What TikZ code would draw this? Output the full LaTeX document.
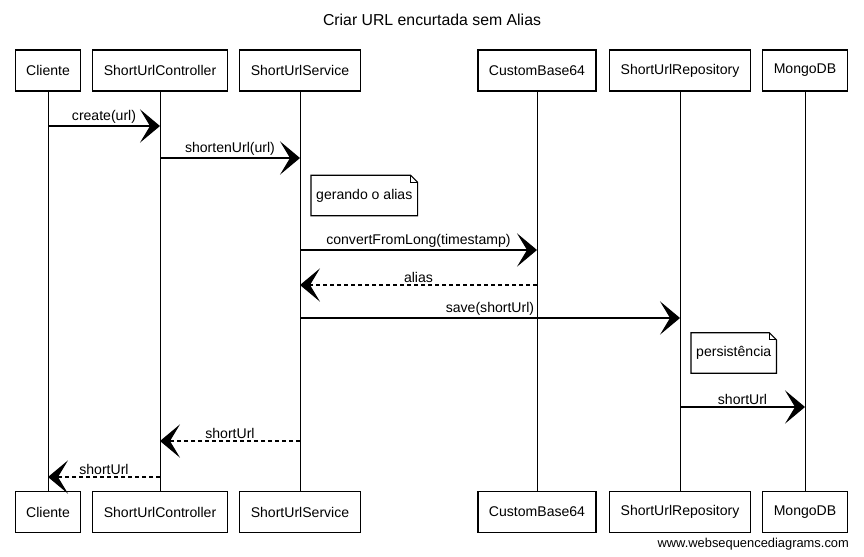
\documentclass[tikz,border=0pt]{standalone}
\usepackage{fontspec}
\setmainfont{Liberation Sans}
\usetikzlibrary{arrows.meta}
\tikzset{ %one unit = one pixel of the reference
  {actor/.style} ={draw, line width=1pt, fill=white, rectangle,
                   inner xsep=3.3mm, minimum height=12.3mm,
                   font=\fontsize{12}{14}\selectfont},
  {lifeline/.style} ={draw, line width=0.8pt},
  {message/.style} ={draw, line width=1pt,
                   -{Stealth[length=6mm,width=10mm,inset=3mm]}},
  {reply/.style} ={message, dash pattern=on 1.2mm off 0.9mm},
  {msglabel/.style} ={above, inner sep=1.5pt, font=\fontsize{12}{14}\selectfont},
  {notebox/.style} ={rectangle, anchor=west, inner xsep=1.5mm,
                   minimum height=12mm, font=\fontsize{12}{14}\selectfont},
  {noteline/.style} ={draw, line width=0.9pt},
}
\begin{document}
\begin{tikzpicture}[x=0.3mm, y=-0.3mm]
\useasboundingbox (0,0) rectangle (864,556);
\node[font=\fontsize{13.5}{16}\selectfont] (title) at (432,20) {Criar URL encurtada sem Alias};
% actors, top and bottom
\node[actor] (cliT) at (48,70.5) {Cliente};
\node[actor] (ctrlT) at (160,70.5) {ShortUrlController};
\node[actor] (servT) at (300,70.5) {ShortUrlService};
\node[actor] (b64T) at (537,70.5) {CustomBase64};
\node[actor] (repoT) at (680,70.5) {ShortUrlRepository};
\node[actor] (mongoT) at (805,70.5) {MongoDB};
\node[actor] (cliB) at (48,512) {Cliente};
\node[actor] (ctrlB) at (160,512) {ShortUrlController};
\node[actor] (servB) at (300,512) {ShortUrlService};
\node[actor] (b64B) at (537,512) {CustomBase64};
\node[actor] (repoB) at (680,512) {ShortUrlRepository};
\node[actor] (mongoB) at (805,512) {MongoDB};
\foreach \a in {cli,ctrl,serv,b64,repo,mongo}
  \draw[lifeline] (\a T.south) -- (\a B.north);
% messages
\draw[message] (cliT |- 0,126) -- node[msglabel] {create(url)} (ctrlT |- 0,126);
\draw[message] (ctrlT |- 0,158) -- node[msglabel] {shortenUrl(url)} (servT |- 0,158);
\node[notebox] (gen) at (311,195.5) {gerando o alias};
\draw[noteline] (gen.south west) -- (gen.north west) -- ([xshift=-2.1mm]gen.north east)
  -- ([yshift=-2.1mm]gen.north east) -- (gen.south east) -- cycle;
\draw[line width=0.7pt] ([xshift=-2.1mm]gen.north east) |- ([yshift=-2.1mm]gen.north east);
\draw[message] (servT |- 0,250) -- node[msglabel] {convertFromLong(timestamp)} (b64T |- 0,250);
\draw[reply] (b64T |- 0,285) -- node[msglabel] {alias} (servT |- 0,285);
\draw[message] (servT |- 0,318) -- node[msglabel] {save(shortUrl)} (repoT |- 0,318);
\node[notebox] (pers) at (691,353) {persistência};
\draw[noteline] (pers.south west) -- (pers.north west) -- ([xshift=-2.1mm]pers.north east)
  -- ([yshift=-2.1mm]pers.north east) -- (pers.south east) -- cycle;
\draw[line width=0.7pt] ([xshift=-2.1mm]pers.north east) |- ([yshift=-2.1mm]pers.north east);
\draw[message] (repoT |- 0,407) -- node[msglabel] {shortUrl} (mongoT |- 0,407);
\draw[reply] (servT |- 0,441) -- node[msglabel] {shortUrl} (ctrlT |- 0,441);
\draw[reply] (ctrlT |- 0,477) -- node[msglabel] {shortUrl} (cliT |- 0,477);
\node[anchor=base east, font=\fontsize{11}{13}\selectfont] (wsd) at (853,547) {www.websequencediagrams.com};
\end{tikzpicture}
\end{document}
